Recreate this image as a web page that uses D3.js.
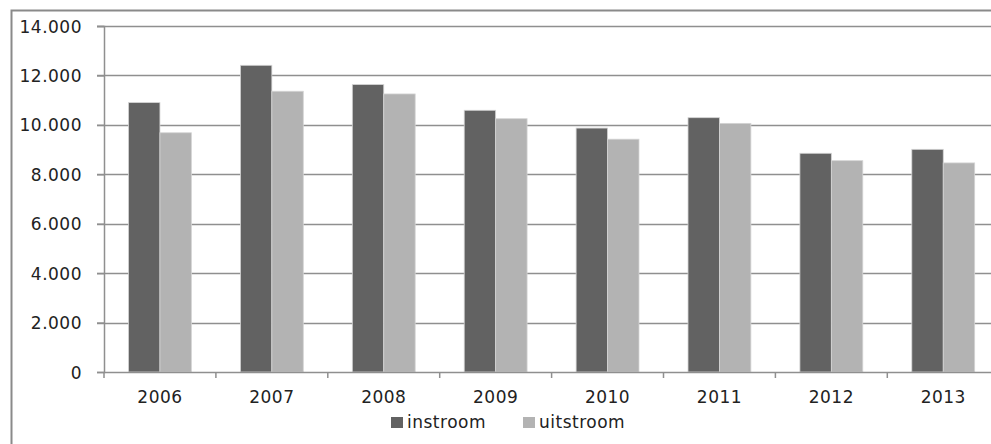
<!DOCTYPE html>
<html>
<head>
<meta charset="utf-8">
<script src="https://cdn.jsdelivr.net/npm/d3@7"></script>
<style>
  body { margin: 0; background: #fff; }
  text { font-family: "DejaVu Sans", sans-serif; font-size: 17px; fill: #222; letter-spacing: 0.5px; }
</style>
</head>
<body>
<div id="chart"></div>
<script>
var years = ["2006", "2007", "2008", "2009", "2010", "2011", "2012", "2013"];
var instroom = [10900, 12410, 11630, 10590, 9870, 10290, 8850, 9010];
var uitstroom = [9680, 11360, 11250, 10250, 9420, 10060, 8550, 8460];
var seriesNames = ["instroom", "uitstroom"];
var yTicks = [0, 2000, 4000, 6000, 8000, 10000, 12000, 14000];

var width = 991, height = 444;
var plotLeft = 104, plotTop = 26, plotBottom = 372, band = 111.9;

var svg = d3.select('#chart')
  .append('svg')
    .attr('width', width)
    .attr('height', height);

// chart frame (cropped on the right and bottom)
svg.append('path')
  .attr('d', 'M11.5,' + (height + 5) + 'V10.5H' + (width + 5))
  .attr('fill', 'none')
  .attr('stroke', '#8a8a8a')
  .attr('stroke-width', 2);

var x = d3.scaleBand()
  .domain(years)
  .range([plotLeft, plotLeft + band * years.length]);

var x1 = d3.scaleBand()
  .domain(seriesNames)
  .range([0, x.bandwidth()])
  .paddingOuter(0.78);

var y = d3.scaleLinear()
  .domain([0, 14000])
  .range([plotBottom, plotTop]);

var z = d3.scaleOrdinal()
  .domain(seriesNames)
  .range(["#626262", "#b3b3b3"]);

var nl = d3.formatLocale({decimal: ",", thousands: ".", grouping: [3], currency: ["€", ""]});
var fmt = nl.format(",");

// gridlines
svg.append('g')
  .selectAll('line')
  .data(yTicks.slice(1))
  .enter().append('line')
    .attr('x1', plotLeft - 7)
    .attr('x2', width)
    .attr('y1', function(d) { return Math.round(y(d)) + 0.5; })
    .attr('y2', function(d) { return Math.round(y(d)) + 0.5; })
    .attr('stroke', '#8f8f8f')
    .attr('stroke-width', 1.5);

var rows = years.map(function(yr, i) {
  return {year: yr, values: [{key: "instroom", v: instroom[i]}, {key: "uitstroom", v: uitstroom[i]}]};
});

svg.append('g')
  .selectAll('g')
  .data(rows)
  .enter().append('g')
    .attr('transform', function(d) { return 'translate(' + x(d.year) + ',0)'; })
  .selectAll('rect')
  .data(function(d) { return d.values; })
  .enter().append('rect')
    .attr('x', function(d) { return x1(d.key); })
    .attr('y', function(d) { return y(d.v); })
    .attr('width', x1.bandwidth())
    .attr('height', function(d) { return plotBottom - y(d.v); })
    .attr('fill', function(d) { return z(d.key); })
    .attr('stroke', '#d4d4d4')
    .attr('stroke-width', 0.8);

// y axis
var yAxis = svg.append('g')
  .attr('transform', 'translate(' + plotLeft + ',0)')
  .call(d3.axisLeft(y).tickValues(yTicks).tickFormat(fmt).tickSize(7).tickPadding(15));
yAxis.select('.domain').attr('stroke', '#8f8f8f').attr('stroke-width', 1.5);
yAxis.selectAll('.tick line').attr('stroke', '#8f8f8f').attr('stroke-width', 1.5);
yAxis.selectAll('text').attr('font-size', null).attr('font-family', null).attr('dy', '0.36em');

// x axis
var xAxis = svg.append('g')
  .attr('transform', 'translate(0,' + plotBottom + ')')
  .call(d3.axisBottom(x).tickSize(0).tickPadding(19));
xAxis.select('.domain').attr('stroke', '#8f8f8f').attr('stroke-width', 1.5);
xAxis.selectAll('text').attr('font-size', null).attr('font-family', null);

svg.append('g')
  .selectAll('line')
  .data(years)
  .enter().append('line')
    .attr('x1', function(d) { return x(d); })
    .attr('x2', function(d) { return x(d); })
    .attr('y1', plotBottom)
    .attr('y2', plotBottom + 6)
    .attr('stroke', '#8f8f8f')
    .attr('stroke-width', 1.5);

// legend
var legendX = [391, 523];
var legend = svg.append('g')
  .selectAll('g')
  .data(seriesNames)
  .enter().append('g')
    .attr('transform', function(d, i) { return 'translate(' + legendX[i] + ',417)'; });
legend.append('rect')
  .attr('width', 12)
  .attr('height', 11)
  .attr('fill', function(d) { return z(d); });
legend.append('text')
  .attr('x', 16)
  .attr('y', 11)
  .text(function(d) { return d; });
</script>
</body>
</html>
